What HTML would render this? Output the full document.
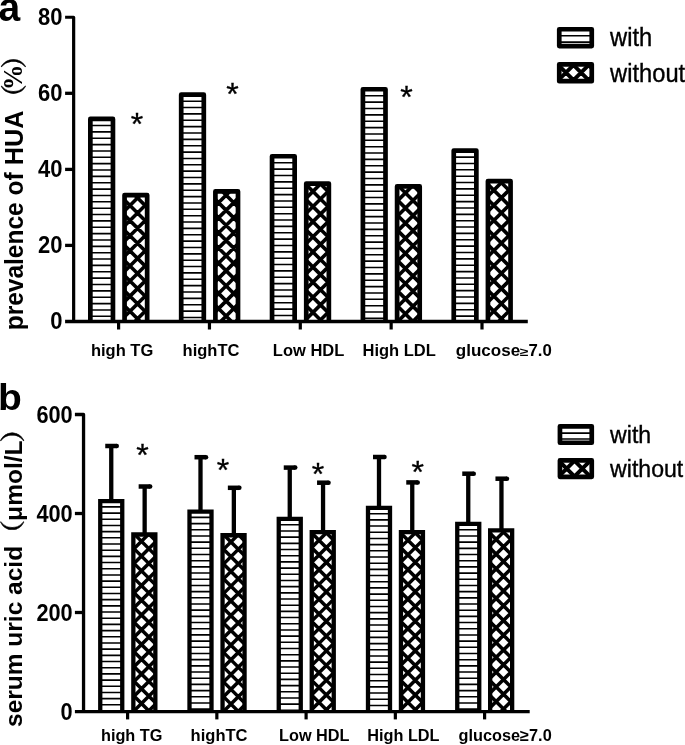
<!DOCTYPE html>
<html><head><meta charset="utf-8"><title>Figure</title>
<style>html,body{margin:0;padding:0;background:#fff}svg{display:block;filter:grayscale(1)}text{font-kerning:none;font-family:"Liberation Sans",sans-serif;fill:#000}</style>
</head><body>
<svg width="685" height="745" viewBox="0 0 685 745">
<rect width="685" height="745" fill="#fff"/>
<defs>
<clipPath id="c1"><rect x="90.35" y="118.95" width="22.60" height="202.55"/></clipPath>
<clipPath id="c2"><rect x="124.55" y="195.05" width="22.60" height="126.45"/></clipPath>
<clipPath id="c3"><rect x="181.20" y="94.65" width="22.60" height="226.85"/></clipPath>
<clipPath id="c4"><rect x="215.40" y="191.45" width="22.60" height="130.05"/></clipPath>
<clipPath id="c5"><rect x="272.05" y="156.25" width="22.60" height="165.25"/></clipPath>
<clipPath id="c6"><rect x="306.25" y="183.55" width="22.60" height="137.95"/></clipPath>
<clipPath id="c7"><rect x="362.90" y="89.25" width="22.60" height="232.25"/></clipPath>
<clipPath id="c8"><rect x="397.10" y="186.45" width="22.60" height="135.05"/></clipPath>
<clipPath id="c9"><rect x="453.75" y="150.55" width="22.60" height="170.95"/></clipPath>
<clipPath id="c10"><rect x="487.95" y="181.05" width="22.60" height="140.45"/></clipPath>
<clipPath id="c11"><rect x="559.25" y="29.25" width="32.50" height="16.80"/></clipPath>
<clipPath id="c12"><rect x="559.25" y="64.35" width="32.50" height="16.80"/></clipPath>
<clipPath id="c13"><rect x="100.25" y="501.05" width="22.00" height="210.50"/></clipPath>
<clipPath id="c14"><rect x="133.35" y="534.50" width="22.00" height="177.05"/></clipPath>
<clipPath id="c15"><rect x="189.50" y="511.55" width="22.00" height="200.00"/></clipPath>
<clipPath id="c16"><rect x="222.55" y="535.25" width="22.00" height="176.30"/></clipPath>
<clipPath id="c17"><rect x="278.75" y="518.95" width="22.00" height="192.60"/></clipPath>
<clipPath id="c18"><rect x="311.75" y="532.15" width="22.00" height="179.40"/></clipPath>
<clipPath id="c19"><rect x="368.00" y="507.85" width="22.00" height="203.70"/></clipPath>
<clipPath id="c20"><rect x="400.95" y="532.15" width="22.00" height="179.40"/></clipPath>
<clipPath id="c21"><rect x="457.25" y="523.95" width="22.00" height="187.60"/></clipPath>
<clipPath id="c22"><rect x="490.15" y="530.35" width="22.00" height="181.20"/></clipPath>
<clipPath id="c23"><rect x="559.95" y="426.35" width="31.80" height="16.40"/></clipPath>
<clipPath id="c24"><rect x="559.95" y="460.45" width="31.80" height="16.40"/></clipPath>
</defs>
<rect x="90.35" y="118.95" width="22.60" height="202.55" fill="#fff"/>
<path clip-path="url(#c1)" d="M90.35 119.14H112.95M90.35 125.50H112.95M90.35 131.86H112.95M90.35 138.22H112.95M90.35 144.58H112.95M90.35 150.94H112.95M90.35 157.30H112.95M90.35 163.66H112.95M90.35 170.02H112.95M90.35 176.38H112.95M90.35 182.74H112.95M90.35 189.10H112.95M90.35 195.46H112.95M90.35 201.82H112.95M90.35 208.18H112.95M90.35 214.54H112.95M90.35 220.90H112.95M90.35 227.26H112.95M90.35 233.62H112.95M90.35 239.98H112.95M90.35 246.34H112.95M90.35 252.70H112.95M90.35 259.06H112.95M90.35 265.42H112.95M90.35 271.78H112.95M90.35 278.14H112.95M90.35 284.50H112.95M90.35 290.86H112.95M90.35 297.22H112.95M90.35 303.58H112.95M90.35 309.94H112.95M90.35 316.30H112.95M90.35 322.66H112.95" stroke="#000" stroke-width="1.6" fill="none"/>
<path d="M90.35 321.50V118.95H112.95V321.50" fill="none" stroke="#000" stroke-width="4.7" stroke-linejoin="round"/>
<rect x="124.55" y="195.05" width="22.60" height="126.45" fill="#fff"/>
<path clip-path="url(#c2)" d="M119.55 170.54L152.15 137.94M119.55 185.66L152.15 153.06M119.55 200.78L152.15 168.18M119.55 215.90L152.15 183.30M119.55 231.02L152.15 198.42M119.55 246.14L152.15 213.54M119.55 261.26L152.15 228.66M119.55 276.38L152.15 243.78M119.55 291.50L152.15 258.90M119.55 306.62L152.15 274.02M119.55 321.74L152.15 289.14M119.55 336.86L152.15 304.26M119.55 351.98L152.15 319.38M119.55 346.22L152.15 378.82M119.55 331.10L152.15 363.70M119.55 315.98L152.15 348.58M119.55 300.86L152.15 333.46M119.55 285.74L152.15 318.34M119.55 270.62L152.15 303.22M119.55 255.50L152.15 288.10M119.55 240.38L152.15 272.98M119.55 225.26L152.15 257.86M119.55 210.14L152.15 242.74M119.55 195.02L152.15 227.62M119.55 179.90L152.15 212.50M119.55 164.78L152.15 197.38" stroke="#000" stroke-width="3.6" fill="none"/>
<path d="M124.55 321.50V195.05H147.15V321.50" fill="none" stroke="#000" stroke-width="4.7" stroke-linejoin="round"/>
<rect x="181.20" y="94.65" width="22.60" height="226.85" fill="#fff"/>
<path clip-path="url(#c3)" d="M181.20 94.84H203.80M181.20 101.20H203.80M181.20 107.56H203.80M181.20 113.92H203.80M181.20 120.28H203.80M181.20 126.64H203.80M181.20 133.00H203.80M181.20 139.36H203.80M181.20 145.72H203.80M181.20 152.08H203.80M181.20 158.44H203.80M181.20 164.80H203.80M181.20 171.16H203.80M181.20 177.52H203.80M181.20 183.88H203.80M181.20 190.24H203.80M181.20 196.60H203.80M181.20 202.96H203.80M181.20 209.32H203.80M181.20 215.68H203.80M181.20 222.04H203.80M181.20 228.40H203.80M181.20 234.76H203.80M181.20 241.12H203.80M181.20 247.48H203.80M181.20 253.84H203.80M181.20 260.20H203.80M181.20 266.56H203.80M181.20 272.92H203.80M181.20 279.28H203.80M181.20 285.64H203.80M181.20 292.00H203.80M181.20 298.36H203.80M181.20 304.72H203.80M181.20 311.08H203.80M181.20 317.44H203.80M181.20 323.80H203.80" stroke="#000" stroke-width="1.6" fill="none"/>
<path d="M181.20 321.50V94.65H203.80V321.50" fill="none" stroke="#000" stroke-width="4.7" stroke-linejoin="round"/>
<rect x="215.40" y="191.45" width="22.60" height="130.05" fill="#fff"/>
<path clip-path="url(#c4)" d="M210.40 180.60L243.00 148.00M210.40 195.72L243.00 163.12M210.40 210.84L243.00 178.24M210.40 225.96L243.00 193.36M210.40 241.08L243.00 208.48M210.40 256.20L243.00 223.60M210.40 271.32L243.00 238.72M210.40 286.44L243.00 253.84M210.40 301.56L243.00 268.96M210.40 316.68L243.00 284.08M210.40 331.80L243.00 299.20M210.40 346.92L243.00 314.32M210.40 362.04L243.00 329.44M210.40 345.76L243.00 378.36M210.40 330.64L243.00 363.24M210.40 315.52L243.00 348.12M210.40 300.40L243.00 333.00M210.40 285.28L243.00 317.88M210.40 270.16L243.00 302.76M210.40 255.04L243.00 287.64M210.40 239.92L243.00 272.52M210.40 224.80L243.00 257.40M210.40 209.68L243.00 242.28M210.40 194.56L243.00 227.16M210.40 179.44L243.00 212.04M210.40 164.32L243.00 196.92M210.40 149.20L243.00 181.80" stroke="#000" stroke-width="3.6" fill="none"/>
<path d="M215.40 321.50V191.45H238.00V321.50" fill="none" stroke="#000" stroke-width="4.7" stroke-linejoin="round"/>
<rect x="272.05" y="156.25" width="22.60" height="165.25" fill="#fff"/>
<path clip-path="url(#c5)" d="M272.05 156.44H294.65M272.05 162.80H294.65M272.05 169.16H294.65M272.05 175.52H294.65M272.05 181.88H294.65M272.05 188.24H294.65M272.05 194.60H294.65M272.05 200.96H294.65M272.05 207.32H294.65M272.05 213.68H294.65M272.05 220.04H294.65M272.05 226.40H294.65M272.05 232.76H294.65M272.05 239.12H294.65M272.05 245.48H294.65M272.05 251.84H294.65M272.05 258.20H294.65M272.05 264.56H294.65M272.05 270.92H294.65M272.05 277.28H294.65M272.05 283.64H294.65M272.05 290.00H294.65M272.05 296.36H294.65M272.05 302.72H294.65M272.05 309.08H294.65M272.05 315.44H294.65M272.05 321.80H294.65" stroke="#000" stroke-width="1.6" fill="none"/>
<path d="M272.05 321.50V156.25H294.65V321.50" fill="none" stroke="#000" stroke-width="4.7" stroke-linejoin="round"/>
<rect x="306.25" y="183.55" width="22.60" height="137.95" fill="#fff"/>
<path clip-path="url(#c6)" d="M301.25 172.90L333.85 140.30M301.25 188.02L333.85 155.42M301.25 203.14L333.85 170.54M301.25 218.26L333.85 185.66M301.25 233.38L333.85 200.78M301.25 248.50L333.85 215.90M301.25 263.62L333.85 231.02M301.25 278.74L333.85 246.14M301.25 293.86L333.85 261.26M301.25 308.98L333.85 276.38M301.25 324.10L333.85 291.50M301.25 339.22L333.85 306.62M301.25 354.34L333.85 321.74M301.25 346.08L333.85 378.68M301.25 330.96L333.85 363.56M301.25 315.84L333.85 348.44M301.25 300.72L333.85 333.32M301.25 285.60L333.85 318.20M301.25 270.48L333.85 303.08M301.25 255.36L333.85 287.96M301.25 240.24L333.85 272.84M301.25 225.12L333.85 257.72M301.25 210.00L333.85 242.60M301.25 194.88L333.85 227.48M301.25 179.76L333.85 212.36M301.25 164.64L333.85 197.24M301.25 149.52L333.85 182.12" stroke="#000" stroke-width="3.6" fill="none"/>
<path d="M306.25 321.50V183.55H328.85V321.50" fill="none" stroke="#000" stroke-width="4.7" stroke-linejoin="round"/>
<rect x="362.90" y="89.25" width="22.60" height="232.25" fill="#fff"/>
<path clip-path="url(#c7)" d="M362.90 89.44H385.50M362.90 95.80H385.50M362.90 102.16H385.50M362.90 108.52H385.50M362.90 114.88H385.50M362.90 121.24H385.50M362.90 127.60H385.50M362.90 133.96H385.50M362.90 140.32H385.50M362.90 146.68H385.50M362.90 153.04H385.50M362.90 159.40H385.50M362.90 165.76H385.50M362.90 172.12H385.50M362.90 178.48H385.50M362.90 184.84H385.50M362.90 191.20H385.50M362.90 197.56H385.50M362.90 203.92H385.50M362.90 210.28H385.50M362.90 216.64H385.50M362.90 223.00H385.50M362.90 229.36H385.50M362.90 235.72H385.50M362.90 242.08H385.50M362.90 248.44H385.50M362.90 254.80H385.50M362.90 261.16H385.50M362.90 267.52H385.50M362.90 273.88H385.50M362.90 280.24H385.50M362.90 286.60H385.50M362.90 292.96H385.50M362.90 299.32H385.50M362.90 305.68H385.50M362.90 312.04H385.50M362.90 318.40H385.50M362.90 324.76H385.50" stroke="#000" stroke-width="1.6" fill="none"/>
<path d="M362.90 321.50V89.25H385.50V321.50" fill="none" stroke="#000" stroke-width="4.7" stroke-linejoin="round"/>
<rect x="397.10" y="186.45" width="22.60" height="135.05" fill="#fff"/>
<path clip-path="url(#c8)" d="M392.10 176.00L424.70 143.40M392.10 191.12L424.70 158.52M392.10 206.24L424.70 173.64M392.10 221.36L424.70 188.76M392.10 236.48L424.70 203.88M392.10 251.60L424.70 219.00M392.10 266.72L424.70 234.12M392.10 281.84L424.70 249.24M392.10 296.96L424.70 264.36M392.10 312.08L424.70 279.48M392.10 327.20L424.70 294.60M392.10 342.32L424.70 309.72M392.10 357.44L424.70 324.84M392.10 345.96L424.70 378.56M392.10 330.84L424.70 363.44M392.10 315.72L424.70 348.32M392.10 300.60L424.70 333.20M392.10 285.48L424.70 318.08M392.10 270.36L424.70 302.96M392.10 255.24L424.70 287.84M392.10 240.12L424.70 272.72M392.10 225.00L424.70 257.60M392.10 209.88L424.70 242.48M392.10 194.76L424.70 227.36M392.10 179.64L424.70 212.24M392.10 164.52L424.70 197.12M392.10 149.40L424.70 182.00" stroke="#000" stroke-width="3.6" fill="none"/>
<path d="M397.10 321.50V186.45H419.70V321.50" fill="none" stroke="#000" stroke-width="4.7" stroke-linejoin="round"/>
<rect x="453.75" y="150.55" width="22.60" height="170.95" fill="#fff"/>
<path clip-path="url(#c9)" d="M453.75 150.74H476.35M453.75 157.10H476.35M453.75 163.46H476.35M453.75 169.82H476.35M453.75 176.18H476.35M453.75 182.54H476.35M453.75 188.90H476.35M453.75 195.26H476.35M453.75 201.62H476.35M453.75 207.98H476.35M453.75 214.34H476.35M453.75 220.70H476.35M453.75 227.06H476.35M453.75 233.42H476.35M453.75 239.78H476.35M453.75 246.14H476.35M453.75 252.50H476.35M453.75 258.86H476.35M453.75 265.22H476.35M453.75 271.58H476.35M453.75 277.94H476.35M453.75 284.30H476.35M453.75 290.66H476.35M453.75 297.02H476.35M453.75 303.38H476.35M453.75 309.74H476.35M453.75 316.10H476.35M453.75 322.46H476.35" stroke="#000" stroke-width="1.6" fill="none"/>
<path d="M453.75 321.50V150.55H476.35V321.50" fill="none" stroke="#000" stroke-width="4.7" stroke-linejoin="round"/>
<rect x="487.95" y="181.05" width="22.60" height="140.45" fill="#fff"/>
<path clip-path="url(#c10)" d="M482.95 170.80L515.55 138.20M482.95 185.92L515.55 153.32M482.95 201.04L515.55 168.44M482.95 216.16L515.55 183.56M482.95 231.28L515.55 198.68M482.95 246.40L515.55 213.80M482.95 261.52L515.55 228.92M482.95 276.64L515.55 244.04M482.95 291.76L515.55 259.16M482.95 306.88L515.55 274.28M482.95 322.00L515.55 289.40M482.95 337.12L515.55 304.52M482.95 352.24L515.55 319.64M482.95 345.68L515.55 378.28M482.95 330.56L515.55 363.16M482.95 315.44L515.55 348.04M482.95 300.32L515.55 332.92M482.95 285.20L515.55 317.80M482.95 270.08L515.55 302.68M482.95 254.96L515.55 287.56M482.95 239.84L515.55 272.44M482.95 224.72L515.55 257.32M482.95 209.60L515.55 242.20M482.95 194.48L515.55 227.08M482.95 179.36L515.55 211.96M482.95 164.24L515.55 196.84M482.95 149.12L515.55 181.72" stroke="#000" stroke-width="3.6" fill="none"/>
<path d="M487.95 321.50V181.05H510.55V321.50" fill="none" stroke="#000" stroke-width="4.7" stroke-linejoin="round"/>
<path d="M65.1 17.25H73.65V321.5" fill="none" stroke="#000" stroke-width="3.2" stroke-linejoin="round"/>
<line x1="65.10" y1="321.50" x2="527.80" y2="321.50" stroke="#000" stroke-width="3.3" stroke-linecap="butt"/>
<text transform="translate(62.40 25.10) scale(1 1.113)" font-size="22" font-weight="bold" text-anchor="end" >80</text>
<line x1="65.10" y1="93.30" x2="73.65" y2="93.30" stroke="#000" stroke-width="3.3" stroke-linecap="butt"/>
<text transform="translate(62.40 101.15) scale(1 1.113)" font-size="22" font-weight="bold" text-anchor="end" >60</text>
<line x1="65.10" y1="169.40" x2="73.65" y2="169.40" stroke="#000" stroke-width="3.3" stroke-linecap="butt"/>
<text transform="translate(62.40 177.25) scale(1 1.113)" font-size="22" font-weight="bold" text-anchor="end" >40</text>
<line x1="65.10" y1="245.40" x2="73.65" y2="245.40" stroke="#000" stroke-width="3.3" stroke-linecap="butt"/>
<text transform="translate(62.40 253.25) scale(1 1.113)" font-size="22" font-weight="bold" text-anchor="end" >20</text>
<text transform="translate(62.40 329.35) scale(1 1.113)" font-size="22" font-weight="bold" text-anchor="end" >0</text>
<line x1="118.60" y1="321.50" x2="118.60" y2="329.50" stroke="#000" stroke-width="3.2" stroke-linecap="butt"/>
<line x1="209.45" y1="321.50" x2="209.45" y2="329.50" stroke="#000" stroke-width="3.2" stroke-linecap="butt"/>
<line x1="300.30" y1="321.50" x2="300.30" y2="329.50" stroke="#000" stroke-width="3.2" stroke-linecap="butt"/>
<line x1="391.15" y1="321.50" x2="391.15" y2="329.50" stroke="#000" stroke-width="3.2" stroke-linecap="butt"/>
<line x1="482.00" y1="321.50" x2="482.00" y2="329.50" stroke="#000" stroke-width="3.2" stroke-linecap="butt"/>
<text transform="translate(90.90 356.20)" font-size="16.5" font-weight="bold" text-anchor="start" >high TG</text>
<text transform="translate(182.60 356.20)" font-size="16.5" font-weight="bold" text-anchor="start" >highTC</text>
<text transform="translate(272.80 356.20)" font-size="16.5" font-weight="bold" text-anchor="start" >Low HDL</text>
<text transform="translate(362.50 356.20)" font-size="16.5" font-weight="bold" text-anchor="start" >High LDL</text>
<text transform="translate(455.80 356.20) scale(1.033 1)" font-size="16.5" font-weight="bold" text-anchor="start" >glucose</text>
<text transform="translate(520.00 356.20)" font-size="12" font-weight="bold" text-anchor="start" textLength="8.6" lengthAdjust="spacingAndGlyphs">≥</text>
<text transform="translate(528.40 356.20) scale(1.02 1)" font-size="16.5" font-weight="bold" text-anchor="start" >7.0</text>
<text transform="translate(136.95 135.30)" font-size="32" font-weight="normal" text-anchor="middle" stroke="#000" stroke-width="0.35">*</text>
<text transform="translate(232.40 104.85)" font-size="32" font-weight="normal" text-anchor="middle" stroke="#000" stroke-width="0.35">*</text>
<text transform="translate(406.45 108.05)" font-size="32" font-weight="normal" text-anchor="middle" stroke="#000" stroke-width="0.35">*</text>
<text transform="translate(23.10 330.30) rotate(-90) scale(1 1.05)" font-size="24.5" font-weight="bold" text-anchor="start" >prevalence of</text>
<text transform="translate(23.10 165.30) rotate(-90) scale(1.034 1.05)" font-size="24.5" font-weight="bold" text-anchor="start" >HUA</text>
<text transform="translate(23.05 110.45) rotate(-90)" font-size="26.2" font-weight="bold" text-anchor="start" stroke="#000" stroke-width="0.4" style="font-family:'Noto Serif CJK SC','Liberation Serif',serif">（</text>
<text transform="translate(22.28 90.10) rotate(-90) scale(1 1.087)" font-size="25.3" font-weight="bold" text-anchor="start" style="font-family:'Liberation Serif',serif">%</text>
<text transform="translate(23.05 68.45) rotate(-90)" font-size="26.2" font-weight="bold" text-anchor="start" stroke="#000" stroke-width="0.4" style="font-family:'Noto Serif CJK SC','Liberation Serif',serif">）</text>
<text transform="translate(-1.60 21.30) scale(1 1.06)" font-size="39" font-weight="bold" text-anchor="start" >a</text>
<path clip-path="url(#c11)" d="M559.25 23.08H591.75M559.25 29.44H591.75M559.25 35.80H591.75M559.25 42.16H591.75M559.25 48.52H591.75" stroke="#000" stroke-width="1.6" fill="none"/>
<rect x="559.25" y="29.25" width="32.50" height="16.80" fill="none" stroke="#000" stroke-width="4.7" stroke-linejoin="round"/>
<path clip-path="url(#c12)" d="M554.25 38.93L596.75 -3.57M554.25 106.27L596.75 148.77M554.25 54.05L596.75 11.55M554.25 91.15L596.75 133.65M554.25 69.17L596.75 26.67M554.25 76.03L596.75 118.53M554.25 84.29L596.75 41.79M554.25 60.91L596.75 103.41M554.25 99.41L596.75 56.91M554.25 45.79L596.75 88.29M554.25 114.53L596.75 72.03M554.25 30.67L596.75 73.17M554.25 129.65L596.75 87.15M554.25 15.55L596.75 58.05M554.25 144.77L596.75 102.27M554.25 0.43L596.75 42.93M554.25 159.89L596.75 117.39M554.25 -14.69L596.75 27.81" stroke="#000" stroke-width="3.9" fill="none"/>
<rect x="559.25" y="64.35" width="32.50" height="16.80" fill="none" stroke="#000" stroke-width="4.7" stroke-linejoin="round"/>
<text transform="translate(610.10 46.00) scale(1 1.07)" font-size="23.7" font-weight="normal" text-anchor="start" stroke="#000" stroke-width="0.35">with</text>
<text transform="translate(610.10 81.60) scale(1 1.07)" font-size="23.7" font-weight="normal" text-anchor="start" stroke="#000" stroke-width="0.35">without</text>
<line x1="111.25" y1="446.00" x2="111.25" y2="500.90" stroke="#000" stroke-width="4.3" stroke-linecap="butt"/>
<line x1="105.25" y1="446.00" x2="116.75" y2="446.00" stroke="#000" stroke-width="4.5" stroke-linecap="butt"/>
<circle cx="116.75" cy="446.00" r="2.25" fill="#000"/>
<rect x="100.25" y="501.05" width="22.00" height="210.50" fill="#fff"/>
<path clip-path="url(#c13)" d="M100.25 500.71H122.25M100.25 506.90H122.25M100.25 513.08H122.25M100.25 519.27H122.25M100.25 525.45H122.25M100.25 531.64H122.25M100.25 537.82H122.25M100.25 544.01H122.25M100.25 550.19H122.25M100.25 556.38H122.25M100.25 562.56H122.25M100.25 568.75H122.25M100.25 574.93H122.25M100.25 581.12H122.25M100.25 587.30H122.25M100.25 593.49H122.25M100.25 599.67H122.25M100.25 605.86H122.25M100.25 612.04H122.25M100.25 618.23H122.25M100.25 624.41H122.25M100.25 630.60H122.25M100.25 636.78H122.25M100.25 642.97H122.25M100.25 649.15H122.25M100.25 655.34H122.25M100.25 661.52H122.25M100.25 667.71H122.25M100.25 673.89H122.25M100.25 680.08H122.25M100.25 686.26H122.25M100.25 692.45H122.25M100.25 698.63H122.25M100.25 704.82H122.25M100.25 711.00H122.25M100.25 717.19H122.25" stroke="#000" stroke-width="1.6" fill="none"/>
<path d="M100.25 711.55V501.05H122.25V711.55" fill="none" stroke="#000" stroke-width="4.3" stroke-linejoin="miter"/>
<line x1="144.65" y1="486.50" x2="144.65" y2="534.35" stroke="#000" stroke-width="4.3" stroke-linecap="butt"/>
<line x1="138.65" y1="486.50" x2="150.15" y2="486.50" stroke="#000" stroke-width="4.5" stroke-linecap="butt"/>
<circle cx="150.15" cy="486.50" r="2.25" fill="#000"/>
<rect x="133.35" y="534.50" width="22.00" height="177.05" fill="#fff"/>
<path clip-path="url(#c14)" d="M128.35 510.21L160.35 478.21M128.35 524.95L160.35 492.95M128.35 539.69L160.35 507.69M128.35 554.43L160.35 522.43M128.35 569.17L160.35 537.17M128.35 583.91L160.35 551.91M128.35 598.65L160.35 566.65M128.35 613.39L160.35 581.39M128.35 628.13L160.35 596.13M128.35 642.87L160.35 610.87M128.35 657.61L160.35 625.61M128.35 672.35L160.35 640.35M128.35 687.09L160.35 655.09M128.35 701.83L160.35 669.83M128.35 716.57L160.35 684.57M128.35 731.31L160.35 699.31M128.35 746.05L160.35 714.05M128.35 734.59L160.35 766.59M128.35 719.85L160.35 751.85M128.35 705.11L160.35 737.11M128.35 690.37L160.35 722.37M128.35 675.63L160.35 707.63M128.35 660.89L160.35 692.89M128.35 646.15L160.35 678.15M128.35 631.41L160.35 663.41M128.35 616.67L160.35 648.67M128.35 601.93L160.35 633.93M128.35 587.19L160.35 619.19M128.35 572.45L160.35 604.45M128.35 557.71L160.35 589.71M128.35 542.97L160.35 574.97M128.35 528.23L160.35 560.23M128.35 513.49L160.35 545.49M128.35 498.75L160.35 530.75" stroke="#000" stroke-width="3.5" fill="none"/>
<path d="M133.35 711.55V534.50H155.35V711.55" fill="none" stroke="#000" stroke-width="4.3" stroke-linejoin="miter"/>
<line x1="200.50" y1="457.20" x2="200.50" y2="511.40" stroke="#000" stroke-width="4.3" stroke-linecap="butt"/>
<line x1="194.50" y1="457.20" x2="206.00" y2="457.20" stroke="#000" stroke-width="4.5" stroke-linecap="butt"/>
<circle cx="206.00" cy="457.20" r="2.25" fill="#000"/>
<rect x="189.50" y="511.55" width="22.00" height="200.00" fill="#fff"/>
<path clip-path="url(#c15)" d="M189.50 511.21H211.50M189.50 517.40H211.50M189.50 523.58H211.50M189.50 529.77H211.50M189.50 535.95H211.50M189.50 542.14H211.50M189.50 548.32H211.50M189.50 554.51H211.50M189.50 560.69H211.50M189.50 566.88H211.50M189.50 573.06H211.50M189.50 579.25H211.50M189.50 585.43H211.50M189.50 591.62H211.50M189.50 597.80H211.50M189.50 603.99H211.50M189.50 610.17H211.50M189.50 616.36H211.50M189.50 622.54H211.50M189.50 628.73H211.50M189.50 634.91H211.50M189.50 641.10H211.50M189.50 647.28H211.50M189.50 653.47H211.50M189.50 659.65H211.50M189.50 665.84H211.50M189.50 672.02H211.50M189.50 678.21H211.50M189.50 684.39H211.50M189.50 690.58H211.50M189.50 696.76H211.50M189.50 702.95H211.50M189.50 709.13H211.50M189.50 715.32H211.50" stroke="#000" stroke-width="1.6" fill="none"/>
<path d="M189.50 711.55V511.55H211.50V711.55" fill="none" stroke="#000" stroke-width="4.3" stroke-linejoin="miter"/>
<line x1="233.85" y1="487.80" x2="233.85" y2="535.10" stroke="#000" stroke-width="4.3" stroke-linecap="butt"/>
<line x1="227.85" y1="487.80" x2="239.35" y2="487.80" stroke="#000" stroke-width="4.5" stroke-linecap="butt"/>
<circle cx="239.35" cy="487.80" r="2.25" fill="#000"/>
<rect x="222.55" y="535.25" width="22.00" height="176.30" fill="#fff"/>
<path clip-path="url(#c16)" d="M217.55 511.11L249.55 479.11M217.55 525.85L249.55 493.85M217.55 540.59L249.55 508.59M217.55 555.33L249.55 523.33M217.55 570.07L249.55 538.07M217.55 584.81L249.55 552.81M217.55 599.55L249.55 567.55M217.55 614.29L249.55 582.29M217.55 629.03L249.55 597.03M217.55 643.77L249.55 611.77M217.55 658.51L249.55 626.51M217.55 673.25L249.55 641.25M217.55 687.99L249.55 655.99M217.55 702.73L249.55 670.73M217.55 717.47L249.55 685.47M217.55 732.21L249.55 700.21M217.55 746.95L249.55 714.95M217.55 734.89L249.55 766.89M217.55 720.15L249.55 752.15M217.55 705.41L249.55 737.41M217.55 690.67L249.55 722.67M217.55 675.93L249.55 707.93M217.55 661.19L249.55 693.19M217.55 646.45L249.55 678.45M217.55 631.71L249.55 663.71M217.55 616.97L249.55 648.97M217.55 602.23L249.55 634.23M217.55 587.49L249.55 619.49M217.55 572.75L249.55 604.75M217.55 558.01L249.55 590.01M217.55 543.27L249.55 575.27M217.55 528.53L249.55 560.53M217.55 513.79L249.55 545.79M217.55 499.05L249.55 531.05" stroke="#000" stroke-width="3.5" fill="none"/>
<path d="M222.55 711.55V535.25H244.55V711.55" fill="none" stroke="#000" stroke-width="4.3" stroke-linejoin="miter"/>
<line x1="289.75" y1="467.60" x2="289.75" y2="518.80" stroke="#000" stroke-width="4.3" stroke-linecap="butt"/>
<line x1="283.75" y1="467.60" x2="295.25" y2="467.60" stroke="#000" stroke-width="4.5" stroke-linecap="butt"/>
<circle cx="295.25" cy="467.60" r="2.25" fill="#000"/>
<rect x="278.75" y="518.95" width="22.00" height="192.60" fill="#fff"/>
<path clip-path="url(#c17)" d="M278.75 518.62H300.75M278.75 524.80H300.75M278.75 530.98H300.75M278.75 537.17H300.75M278.75 543.35H300.75M278.75 549.54H300.75M278.75 555.72H300.75M278.75 561.91H300.75M278.75 568.09H300.75M278.75 574.28H300.75M278.75 580.46H300.75M278.75 586.65H300.75M278.75 592.83H300.75M278.75 599.02H300.75M278.75 605.20H300.75M278.75 611.39H300.75M278.75 617.57H300.75M278.75 623.76H300.75M278.75 629.94H300.75M278.75 636.13H300.75M278.75 642.31H300.75M278.75 648.50H300.75M278.75 654.68H300.75M278.75 660.87H300.75M278.75 667.05H300.75M278.75 673.24H300.75M278.75 679.42H300.75M278.75 685.61H300.75M278.75 691.79H300.75M278.75 697.98H300.75M278.75 704.16H300.75M278.75 710.35H300.75M278.75 716.53H300.75" stroke="#000" stroke-width="1.6" fill="none"/>
<path d="M278.75 711.55V518.95H300.75V711.55" fill="none" stroke="#000" stroke-width="4.3" stroke-linejoin="miter"/>
<line x1="323.05" y1="482.70" x2="323.05" y2="532.00" stroke="#000" stroke-width="4.3" stroke-linecap="butt"/>
<line x1="317.05" y1="482.70" x2="328.55" y2="482.70" stroke="#000" stroke-width="4.5" stroke-linecap="butt"/>
<circle cx="328.55" cy="482.70" r="2.25" fill="#000"/>
<rect x="311.75" y="532.15" width="22.00" height="179.40" fill="#fff"/>
<path clip-path="url(#c18)" d="M306.75 508.21L338.75 476.21M306.75 522.95L338.75 490.95M306.75 537.69L338.75 505.69M306.75 552.43L338.75 520.43M306.75 567.17L338.75 535.17M306.75 581.91L338.75 549.91M306.75 596.65L338.75 564.65M306.75 611.39L338.75 579.39M306.75 626.13L338.75 594.13M306.75 640.87L338.75 608.87M306.75 655.61L338.75 623.61M306.75 670.35L338.75 638.35M306.75 685.09L338.75 653.09M306.75 699.83L338.75 667.83M306.75 714.57L338.75 682.57M306.75 729.31L338.75 697.31M306.75 744.05L338.75 712.05M306.75 734.33L338.75 766.33M306.75 719.59L338.75 751.59M306.75 704.85L338.75 736.85M306.75 690.11L338.75 722.11M306.75 675.37L338.75 707.37M306.75 660.63L338.75 692.63M306.75 645.89L338.75 677.89M306.75 631.15L338.75 663.15M306.75 616.41L338.75 648.41M306.75 601.67L338.75 633.67M306.75 586.93L338.75 618.93M306.75 572.19L338.75 604.19M306.75 557.45L338.75 589.45M306.75 542.71L338.75 574.71M306.75 527.97L338.75 559.97M306.75 513.23L338.75 545.23M306.75 498.49L338.75 530.49" stroke="#000" stroke-width="3.5" fill="none"/>
<path d="M311.75 711.55V532.15H333.75V711.55" fill="none" stroke="#000" stroke-width="4.3" stroke-linejoin="miter"/>
<line x1="379.00" y1="457.00" x2="379.00" y2="507.70" stroke="#000" stroke-width="4.3" stroke-linecap="butt"/>
<line x1="373.00" y1="457.00" x2="384.50" y2="457.00" stroke="#000" stroke-width="4.5" stroke-linecap="butt"/>
<circle cx="384.50" cy="457.00" r="2.25" fill="#000"/>
<rect x="368.00" y="507.85" width="22.00" height="203.70" fill="#fff"/>
<path clip-path="url(#c19)" d="M368.00 507.52H390.00M368.00 513.70H390.00M368.00 519.88H390.00M368.00 526.07H390.00M368.00 532.25H390.00M368.00 538.44H390.00M368.00 544.62H390.00M368.00 550.81H390.00M368.00 556.99H390.00M368.00 563.18H390.00M368.00 569.36H390.00M368.00 575.55H390.00M368.00 581.73H390.00M368.00 587.92H390.00M368.00 594.10H390.00M368.00 600.29H390.00M368.00 606.47H390.00M368.00 612.66H390.00M368.00 618.84H390.00M368.00 625.03H390.00M368.00 631.21H390.00M368.00 637.40H390.00M368.00 643.58H390.00M368.00 649.77H390.00M368.00 655.95H390.00M368.00 662.14H390.00M368.00 668.32H390.00M368.00 674.51H390.00M368.00 680.69H390.00M368.00 686.88H390.00M368.00 693.06H390.00M368.00 699.25H390.00M368.00 705.43H390.00M368.00 711.62H390.00" stroke="#000" stroke-width="1.6" fill="none"/>
<path d="M368.00 711.55V507.85H390.00V711.55" fill="none" stroke="#000" stroke-width="4.3" stroke-linejoin="miter"/>
<line x1="412.25" y1="482.40" x2="412.25" y2="532.00" stroke="#000" stroke-width="4.3" stroke-linecap="butt"/>
<line x1="406.25" y1="482.40" x2="417.75" y2="482.40" stroke="#000" stroke-width="4.5" stroke-linecap="butt"/>
<circle cx="417.75" cy="482.40" r="2.25" fill="#000"/>
<rect x="400.95" y="532.15" width="22.00" height="179.40" fill="#fff"/>
<path clip-path="url(#c20)" d="M395.95 507.96L427.95 475.96M395.95 522.70L427.95 490.70M395.95 537.44L427.95 505.44M395.95 552.18L427.95 520.18M395.95 566.92L427.95 534.92M395.95 581.66L427.95 549.66M395.95 596.40L427.95 564.40M395.95 611.14L427.95 579.14M395.95 625.88L427.95 593.88M395.95 640.62L427.95 608.62M395.95 655.36L427.95 623.36M395.95 670.10L427.95 638.10M395.95 684.84L427.95 652.84M395.95 699.58L427.95 667.58M395.95 714.32L427.95 682.32M395.95 729.06L427.95 697.06M395.95 743.80L427.95 711.80M395.95 734.58L427.95 766.58M395.95 719.84L427.95 751.84M395.95 705.10L427.95 737.10M395.95 690.36L427.95 722.36M395.95 675.62L427.95 707.62M395.95 660.88L427.95 692.88M395.95 646.14L427.95 678.14M395.95 631.40L427.95 663.40M395.95 616.66L427.95 648.66M395.95 601.92L427.95 633.92M395.95 587.18L427.95 619.18M395.95 572.44L427.95 604.44M395.95 557.70L427.95 589.70M395.95 542.96L427.95 574.96M395.95 528.22L427.95 560.22M395.95 513.48L427.95 545.48M395.95 498.74L427.95 530.74" stroke="#000" stroke-width="3.5" fill="none"/>
<path d="M400.95 711.55V532.15H422.95V711.55" fill="none" stroke="#000" stroke-width="4.3" stroke-linejoin="miter"/>
<line x1="468.25" y1="473.70" x2="468.25" y2="523.80" stroke="#000" stroke-width="4.3" stroke-linecap="butt"/>
<line x1="462.25" y1="473.70" x2="473.75" y2="473.70" stroke="#000" stroke-width="4.5" stroke-linecap="butt"/>
<circle cx="473.75" cy="473.70" r="2.25" fill="#000"/>
<rect x="457.25" y="523.95" width="22.00" height="187.60" fill="#fff"/>
<path clip-path="url(#c21)" d="M457.25 523.62H479.25M457.25 529.80H479.25M457.25 535.98H479.25M457.25 542.17H479.25M457.25 548.35H479.25M457.25 554.54H479.25M457.25 560.72H479.25M457.25 566.91H479.25M457.25 573.09H479.25M457.25 579.28H479.25M457.25 585.46H479.25M457.25 591.65H479.25M457.25 597.83H479.25M457.25 604.02H479.25M457.25 610.20H479.25M457.25 616.39H479.25M457.25 622.57H479.25M457.25 628.76H479.25M457.25 634.94H479.25M457.25 641.13H479.25M457.25 647.31H479.25M457.25 653.50H479.25M457.25 659.68H479.25M457.25 665.87H479.25M457.25 672.05H479.25M457.25 678.24H479.25M457.25 684.42H479.25M457.25 690.61H479.25M457.25 696.79H479.25M457.25 702.98H479.25M457.25 709.16H479.25M457.25 715.35H479.25" stroke="#000" stroke-width="1.6" fill="none"/>
<path d="M457.25 711.55V523.95H479.25V711.55" fill="none" stroke="#000" stroke-width="4.3" stroke-linejoin="miter"/>
<line x1="501.45" y1="478.70" x2="501.45" y2="530.20" stroke="#000" stroke-width="4.3" stroke-linecap="butt"/>
<line x1="495.45" y1="478.70" x2="506.95" y2="478.70" stroke="#000" stroke-width="4.5" stroke-linecap="butt"/>
<circle cx="506.95" cy="478.70" r="2.25" fill="#000"/>
<rect x="490.15" y="530.35" width="22.00" height="181.20" fill="#fff"/>
<path clip-path="url(#c22)" d="M485.15 506.16L517.15 474.16M485.15 520.90L517.15 488.90M485.15 535.64L517.15 503.64M485.15 550.38L517.15 518.38M485.15 565.12L517.15 533.12M485.15 579.86L517.15 547.86M485.15 594.60L517.15 562.60M485.15 609.34L517.15 577.34M485.15 624.08L517.15 592.08M485.15 638.82L517.15 606.82M485.15 653.56L517.15 621.56M485.15 668.30L517.15 636.30M485.15 683.04L517.15 651.04M485.15 697.78L517.15 665.78M485.15 712.52L517.15 680.52M485.15 727.26L517.15 695.26M485.15 742.00L517.15 710.00M485.15 734.78L517.15 766.78M485.15 720.04L517.15 752.04M485.15 705.30L517.15 737.30M485.15 690.56L517.15 722.56M485.15 675.82L517.15 707.82M485.15 661.08L517.15 693.08M485.15 646.34L517.15 678.34M485.15 631.60L517.15 663.60M485.15 616.86L517.15 648.86M485.15 602.12L517.15 634.12M485.15 587.38L517.15 619.38M485.15 572.64L517.15 604.64M485.15 557.90L517.15 589.90M485.15 543.16L517.15 575.16M485.15 528.42L517.15 560.42M485.15 513.68L517.15 545.68M485.15 498.94L517.15 530.94" stroke="#000" stroke-width="3.5" fill="none"/>
<path d="M490.15 711.55V530.35H512.15V711.55" fill="none" stroke="#000" stroke-width="4.3" stroke-linejoin="miter"/>
<path d="M74.9 414.5H83.55V711.55" fill="none" stroke="#000" stroke-width="3.3" stroke-linejoin="round"/>
<line x1="74.90" y1="711.55" x2="529.70" y2="711.55" stroke="#000" stroke-width="3.3" stroke-linecap="butt"/>
<text transform="translate(72.70 422.70) scale(1 1.1)" font-size="21.75" font-weight="bold" text-anchor="end" >600</text>
<line x1="74.90" y1="513.50" x2="83.55" y2="513.50" stroke="#000" stroke-width="3.3" stroke-linecap="butt"/>
<text transform="translate(72.70 521.70) scale(1 1.1)" font-size="21.75" font-weight="bold" text-anchor="end" >400</text>
<line x1="74.90" y1="612.50" x2="83.55" y2="612.50" stroke="#000" stroke-width="3.3" stroke-linecap="butt"/>
<text transform="translate(72.70 620.70) scale(1 1.1)" font-size="21.75" font-weight="bold" text-anchor="end" >200</text>
<text transform="translate(72.70 719.55) scale(1 1.1)" font-size="21.75" font-weight="bold" text-anchor="end" >0</text>
<line x1="127.60" y1="711.55" x2="127.60" y2="719.40" stroke="#000" stroke-width="3.2" stroke-linecap="butt"/>
<line x1="216.85" y1="711.55" x2="216.85" y2="719.40" stroke="#000" stroke-width="3.2" stroke-linecap="butt"/>
<line x1="306.10" y1="711.55" x2="306.10" y2="719.40" stroke="#000" stroke-width="3.2" stroke-linecap="butt"/>
<line x1="395.35" y1="711.55" x2="395.35" y2="719.40" stroke="#000" stroke-width="3.2" stroke-linecap="butt"/>
<line x1="484.60" y1="711.55" x2="484.60" y2="719.40" stroke="#000" stroke-width="3.2" stroke-linecap="butt"/>
<text transform="translate(100.95 741.00)" font-size="16.3" font-weight="bold" text-anchor="start" >high TG</text>
<text transform="translate(190.60 741.00) scale(1.015 1)" font-size="16.3" font-weight="bold" text-anchor="start" >highTC</text>
<text transform="translate(279.00 741.00)" font-size="16.3" font-weight="bold" text-anchor="start" >Low HDL</text>
<text transform="translate(367.20 741.00)" font-size="16.3" font-weight="bold" text-anchor="start" >High LDL</text>
<text transform="translate(458.60 741.00)" font-size="16.3" font-weight="bold" text-anchor="start" >glucose≥7.0</text>
<text transform="translate(142.50 466.15)" font-size="32" font-weight="normal" text-anchor="middle" stroke="#000" stroke-width="0.35">*</text>
<text transform="translate(222.85 481.10)" font-size="32" font-weight="normal" text-anchor="middle" stroke="#000" stroke-width="0.35">*</text>
<text transform="translate(317.85 485.25)" font-size="32" font-weight="normal" text-anchor="middle" stroke="#000" stroke-width="0.35">*</text>
<text transform="translate(417.60 482.55)" font-size="32" font-weight="normal" text-anchor="middle" stroke="#000" stroke-width="0.35">*</text>
<text transform="translate(21.60 727.00) rotate(-90)" font-size="24.5" font-weight="bold" text-anchor="start" >serum uric acid</text>
<text transform="translate(21.65 547.50) rotate(-90) scale(1.1 1)" font-size="25" font-weight="bold" text-anchor="start" stroke="#000" stroke-width="0.4" style="font-family:'Noto Serif CJK SC','Liberation Serif',serif">（</text>
<text transform="translate(21.60 520.90) rotate(-90) scale(1.0156 1)" font-size="24.2" font-weight="bold" text-anchor="start" >μmol/L</text>
<text transform="translate(21.65 442.60) rotate(-90) scale(1.1 1)" font-size="25" font-weight="bold" text-anchor="start" stroke="#000" stroke-width="0.4" style="font-family:'Noto Serif CJK SC','Liberation Serif',serif">）</text>
<text transform="translate(-2.10 410.20) scale(1.04 0.985)" font-size="37.5" font-weight="bold" text-anchor="start" >b</text>
<path clip-path="url(#c23)" d="M559.95 421.30H591.75M559.95 427.20H591.75M559.95 433.10H591.75M559.95 439.00H591.75M559.95 444.90H591.75" stroke="#000" stroke-width="1.6" fill="none"/>
<rect x="559.95" y="426.35" width="31.80" height="16.40" fill="none" stroke="#000" stroke-width="4.7" stroke-linejoin="round"/>
<path clip-path="url(#c24)" d="M554.95 433.55L596.75 391.75M554.95 503.65L596.75 545.45M554.95 449.15L596.75 407.35M554.95 488.05L596.75 529.85M554.95 464.75L596.75 422.95M554.95 472.45L596.75 514.25M554.95 480.35L596.75 438.55M554.95 456.85L596.75 498.65M554.95 495.95L596.75 454.15M554.95 441.25L596.75 483.05M554.95 511.55L596.75 469.75M554.95 425.65L596.75 467.45M554.95 527.15L596.75 485.35M554.95 410.05L596.75 451.85M554.95 542.75L596.75 500.95M554.95 394.45L596.75 436.25M554.95 558.35L596.75 516.55M554.95 378.85L596.75 420.65" stroke="#000" stroke-width="3.9" fill="none"/>
<rect x="559.95" y="460.45" width="31.80" height="16.40" fill="none" stroke="#000" stroke-width="4.7" stroke-linejoin="round"/>
<text transform="translate(610.10 442.80) scale(1 1.035)" font-size="23.1" font-weight="normal" text-anchor="start" stroke="#000" stroke-width="0.35">with</text>
<text transform="translate(610.10 476.80) scale(1 1.035)" font-size="23.1" font-weight="normal" text-anchor="start" stroke="#000" stroke-width="0.35">without</text>
</svg>
</body></html>
